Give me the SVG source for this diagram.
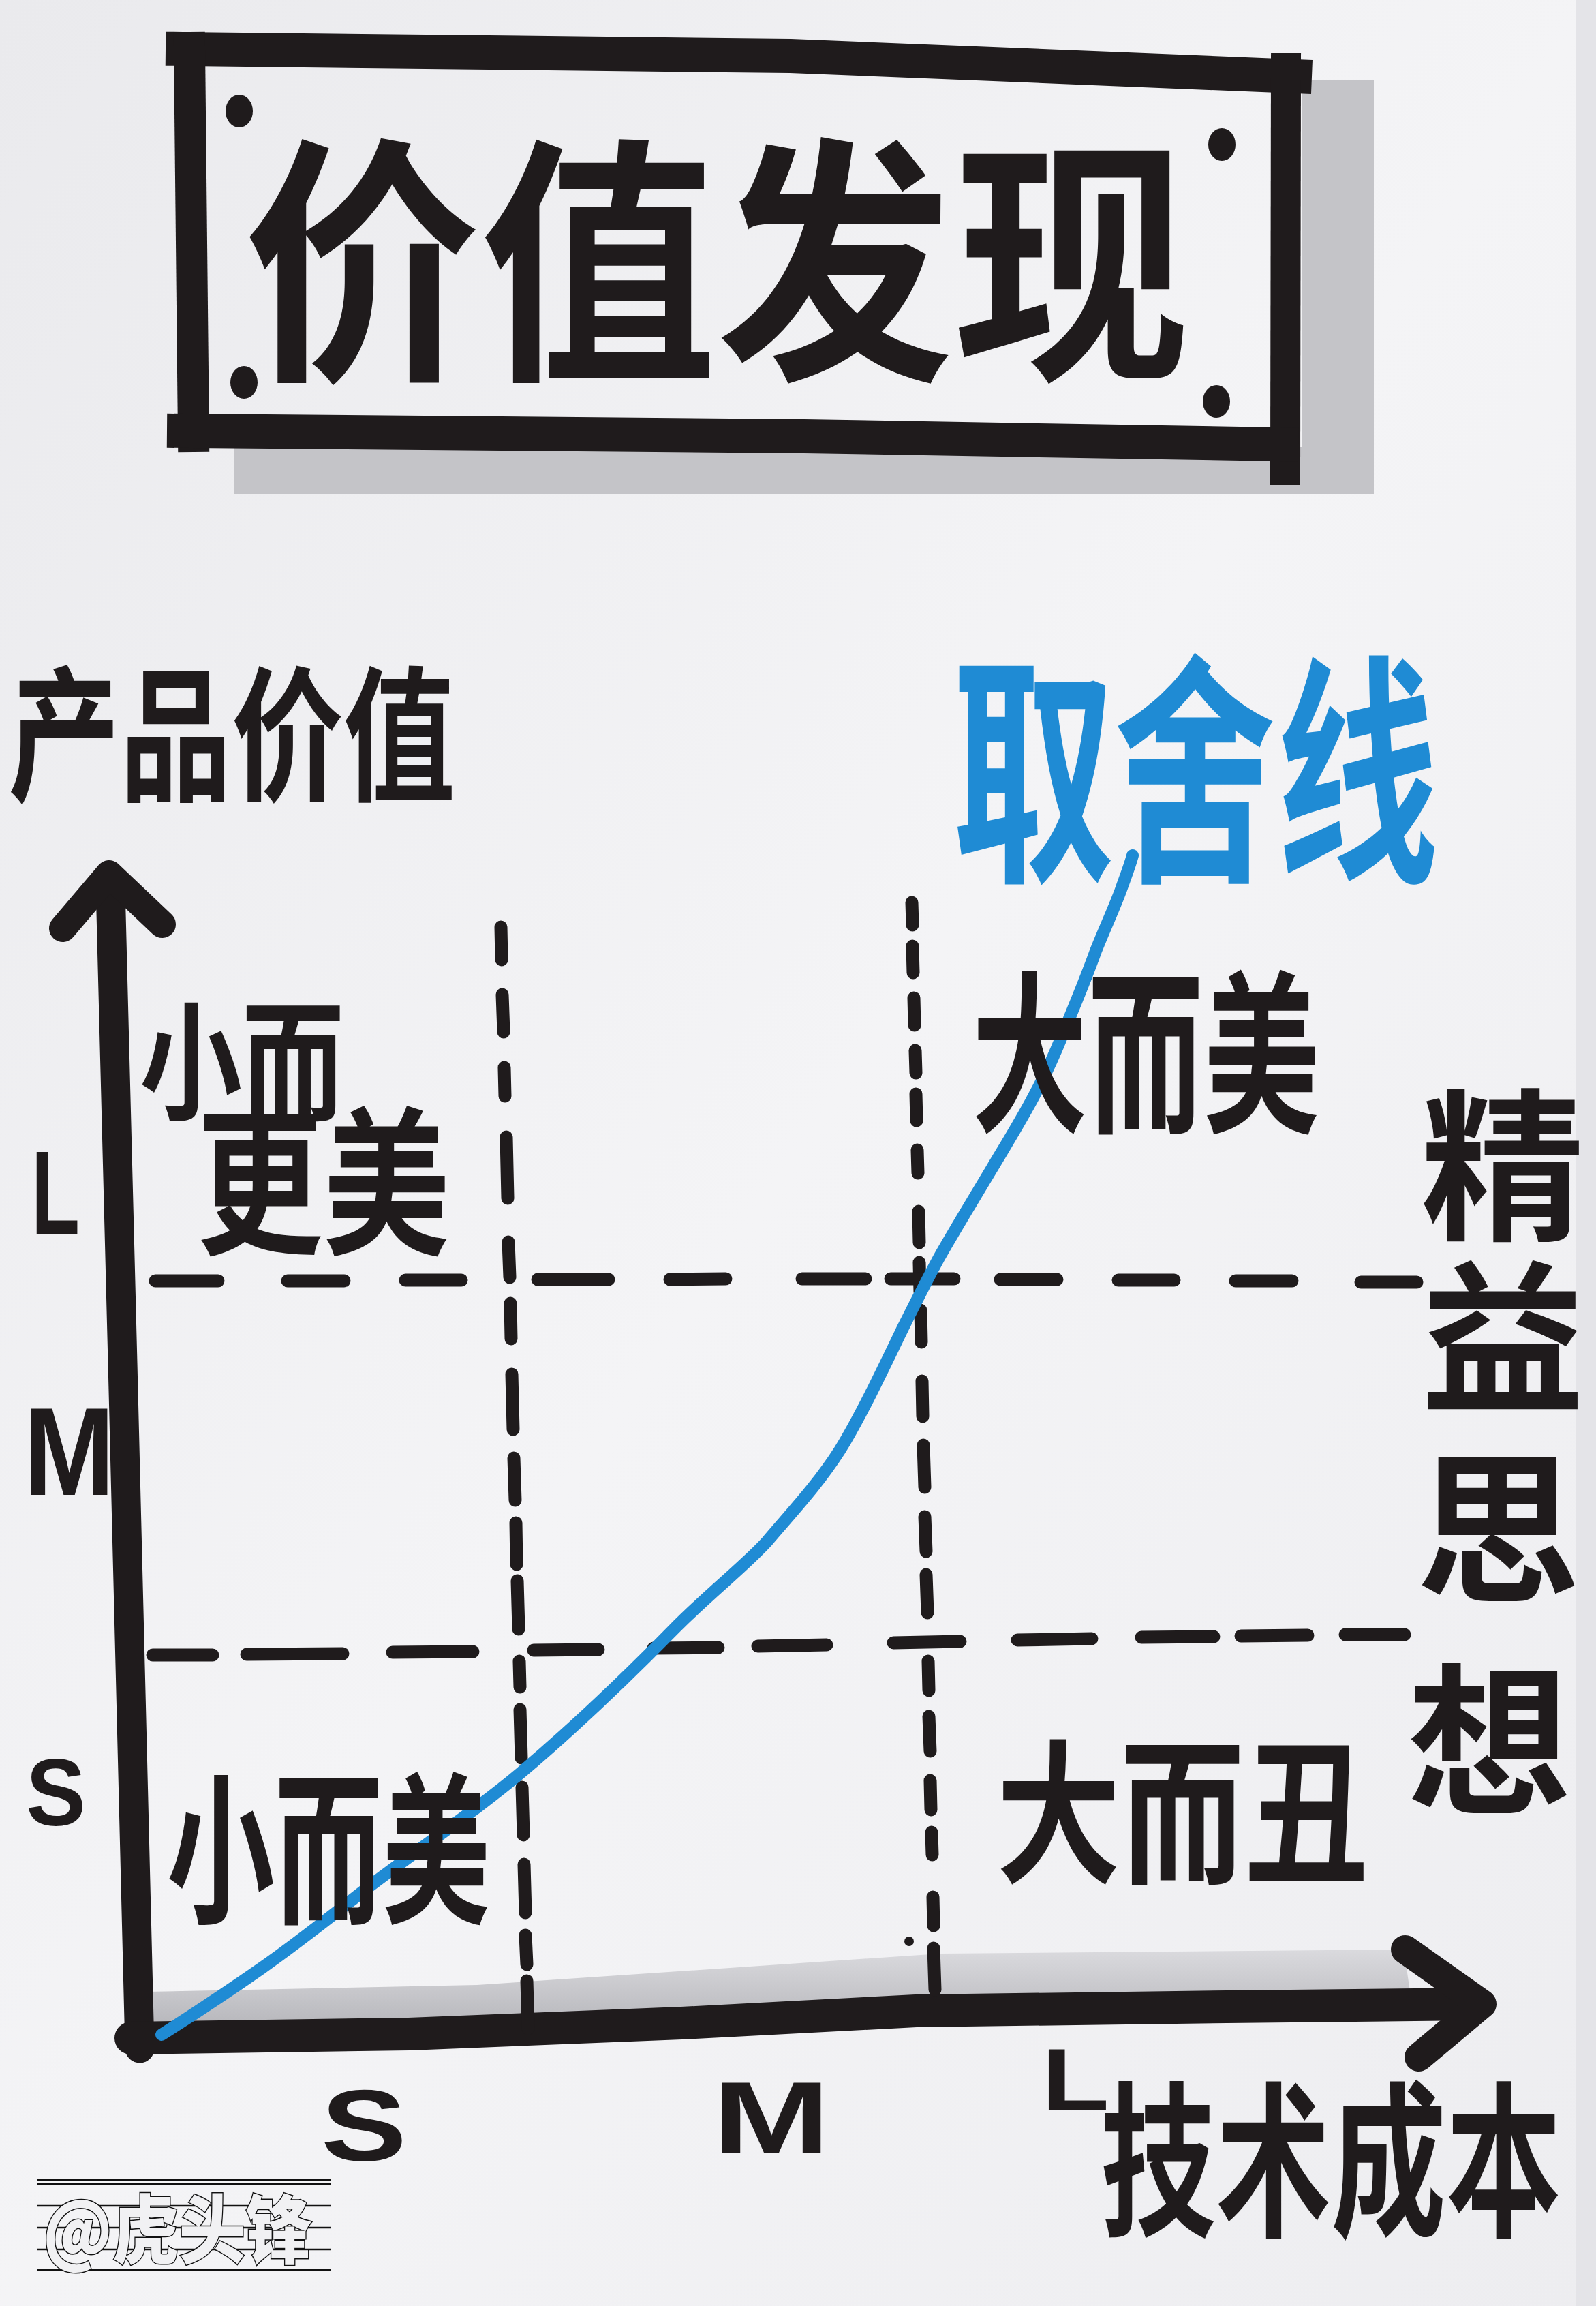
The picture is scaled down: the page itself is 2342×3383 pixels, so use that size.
<svg xmlns="http://www.w3.org/2000/svg" width="2342" height="3383" viewBox="0 0 2342 3383">
  <defs>
    <linearGradient id="paper" x1="0" y1="0" x2="1" y2="1">
      <stop offset="0" stop-color="#eaeaed"/>
      <stop offset="0.5" stop-color="#f4f4f6"/>
      <stop offset="1" stop-color="#ededf0"/>
    </linearGradient>
    <linearGradient id="axisShade" x1="0" y1="0" x2="0" y2="1">
      <stop offset="0" stop-color="#d6d6da"/>
      <stop offset="1" stop-color="#aeaeb3"/>
    </linearGradient>
    <style>
      .ink { fill: #1f1b1c; }
      .cjk { font-family: "Noto Sans CJK SC", "Noto Sans", sans-serif; font-weight: 700; fill: #1f1b1c; }
      .lat { font-family: "Liberation Sans", Arial, sans-serif; font-weight: 700; fill: #1f1b1c; }
      .blue { fill: #1f8bd4; }
      .bar { stroke: #1f1b1c; fill: none; stroke-linecap: square; }
      .dash { stroke: #1f1b1c; stroke-width: 19; stroke-linecap: round; fill: none; }
      .axis { stroke: #1f1b1c; fill: none; stroke-linecap: round; stroke-linejoin: round; }
      .shadow { fill: #c4c4c8; }
      .wm { font-family: "Noto Sans CJK SC", sans-serif; font-weight: 900; fill: #f1f1f3; stroke: #111; stroke-width: 3; paint-order: stroke; }
      .wmline { stroke: #111; stroke-width: 2.5; }
    </style>
  </defs>

  <rect x="0" y="0" width="2342" height="3383" fill="url(#paper)"/>
  <rect x="2312" y="0" width="30" height="3383" fill="#e4e4e8"/>

  <!-- Title box -->
  <g id="title">
    <rect class="shadow" x="1910" y="117" width="106" height="607"/>
    <rect class="shadow" x="344" y="656" width="1672" height="68"/>
    <path class="bar" stroke-width="50" d="M268,72 L1160,82 L1900,112"/>
    <path class="bar" stroke-width="46" d="M278,70 L284,640"/>
    <path class="bar" stroke-width="44" d="M1887,100 L1886,690"/>
    <path class="bar" stroke-width="50" d="M270,632 L1180,640 L1880,652"/>
    <ellipse class="ink" cx="351" cy="163" rx="20" ry="24"/>
    <ellipse class="ink" cx="1793" cy="212" rx="20" ry="24"/>
    <ellipse class="ink" cx="358" cy="561" rx="20" ry="24"/>
    <ellipse class="ink" cx="1785" cy="589" rx="20" ry="24"/>
    <text class="cjk" transform="translate(358,528) scale(1,1.1)" x="0" y="0" font-size="347">价值发现</text>
  </g>

  <!-- Connectors: axes, grid, trade-off curve -->
  <g id="connectors">
    <path fill="url(#axisShade)" opacity="0.85" d="M215,2968 L215,2922 L700,2912 L1100,2885 L1380,2866 L2060,2860 L2070,2928 L1344,2942 L900,2968 Z"/>
    <path class="axis" stroke-width="43" d="M162,1300 L180,2000 L205,3005"/>
    <path class="axis" stroke-width="40" stroke-linejoin="miter" d="M92,1362 L160,1282 L238,1356"/>
    <path class="axis" stroke-width="48" d="M192,2990 L600,2984 L1000,2968 L1344,2950 L1800,2944 L2165,2940"/>
    <path class="axis" stroke-width="42" stroke-linejoin="miter" d="M2062,2860 L2175,2940 L2082,3018"/>

    <path class="dash" d="M735,1360 L736,1408 M737,1459 L739,1514 M740,1566 L741,1608 M743,1668 L745,1758 M746,1822 L748,1874 M749,1912 L750,1964 M751,2016 L753,2097 M754,2139 L756,2201 M757,2234 L758,2295 M759,2319 L761,2390 M762,2437 L763,2475 M763,2508 L765,2579 M766,2622 L768,2692 M769,2735 L771,2806 M771,2839 L773,2882 M773,2906 L775,2976"/>
    <path class="dash" d="M1338,1324 L1339,1357 M1339,1388 L1340,1427 M1341,1464 L1342,1504 M1343,1541 L1344,1574 M1344,1605 L1345,1644 M1346,1687 L1347,1721 M1348,1777 L1349,1823 M1349,1852 L1350,1895 M1351,1922 L1352,1969 M1353,2026 L1354,2078 M1355,2120 L1357,2182 M1357,2225 L1359,2276 M1359,2310 L1361,2366 M1362,2437 L1363,2480 M1363,2518 L1365,2569 M1365,2612 L1366,2655 M1367,2688 L1368,2721 M1369,2783 L1370,2825 M1370,2858 L1372,2919"/>
    <circle class="ink" cx="1334" cy="2848" r="7"/>
    <path class="dash" d="M228,1879 L320,1879 M422,1879 L505,1879 M595,1878 L677,1878 M789,1877 L893,1877 M983,1877 L1065,1876 M1177,1876 L1270,1876 M1307,1876 L1400,1876 M1468,1877 L1551,1877 M1641,1878 L1723,1878 M1813,1879 L1896,1879 M1997,1881 L2079,1881"/>
    <path class="dash" d="M224,2428 L312,2428 M362,2427 L503,2426 M576,2424 L694,2423 M783,2421 L878,2420 M959,2418 L1054,2417 M1112,2415 L1213,2413 M1311,2410 L1409,2408 M1493,2406 L1602,2404 M1675,2402 L1781,2401 M1821,2400 L1919,2399 M1974,2398 L2061,2398"/>

    <path fill="none" stroke="#1f8bd4" stroke-width="18" stroke-linecap="round" stroke-linejoin="round" d="M237,2985 C300,2945 340,2918 383,2888 C440,2848 490,2808 536,2772 C620,2708 700,2655 765,2600 C850,2528 930,2450 987,2392 C1040,2338 1090,2300 1125,2262 C1165,2215 1200,2178 1232,2128 C1262,2080 1300,2000 1325,1948 C1345,1908 1360,1878 1378,1845 C1400,1806 1440,1740 1470,1690 C1500,1640 1528,1592 1550,1540 C1570,1492 1592,1440 1608,1395 C1622,1360 1636,1330 1645,1305 C1652,1285 1658,1270 1662,1255"/>
  </g>

  <g id="y-axis-label">
    <text class="cjk" transform="translate(12,1158) scale(1,1.3)" x="0" y="0" font-size="164">产品价值</text>
  </g>
  <g id="x-axis-label">
    <text class="cjk" transform="translate(1615,3262) scale(1,1.45)" x="0" y="0" font-size="169">技术成本</text>
  </g>
  <g id="y-ticks">
    <text class="lat" x="46" y="1810" font-size="175" textLength="71" lengthAdjust="spacingAndGlyphs">L</text>
    <text class="lat" x="35" y="2193" font-size="184" textLength="133" lengthAdjust="spacingAndGlyphs">M</text>
    <text class="lat" x="38" y="2678" font-size="140" textLength="88" lengthAdjust="spacingAndGlyphs">S</text>
  </g>
  <g id="x-ticks">
    <text class="lat" x="471" y="3170" font-size="148" textLength="126" lengthAdjust="spacingAndGlyphs">S</text>
    <text class="lat" x="1046" y="3159" font-size="150" textLength="172" lengthAdjust="spacingAndGlyphs">M</text>
    <text class="lat" x="1528" y="3096" font-size="130" textLength="100" lengthAdjust="spacingAndGlyphs">L</text>
  </g>

  <g id="q-small-better">
    <text class="cjk" transform="scale(1,1.25)"><tspan x="205" y="1302.4" font-size="150">小而</tspan><tspan x="288" y="1457.6" font-size="186">更美</tspan></text>
  </g>
  <g id="q-big-beautiful">
    <text class="cjk" transform="translate(1426,1641) scale(1,1.5)" x="0" y="0" font-size="170">大而美</text>
  </g>
  <g id="q-small-beautiful">
    <text class="cjk" transform="translate(245,2803) scale(1,1.5)" x="0" y="0" font-size="158">小而美</text>
  </g>
  <g id="q-big-ugly">
    <text class="cjk" transform="translate(1462,2745) scale(1,1.25)" x="0" y="0" font-size="182">大而丑</text>
  </g>

  <g id="curve-label">
    <text class="cjk blue" transform="translate(1397,1266) scale(1,1.5)" x="0" y="0" font-size="238">取舍线</text>
  </g>

  <g id="lean-thinking">
    <text class="cjk" font-size="240" text-anchor="middle"><tspan x="2205" y="1800">精</tspan><tspan x="2205" y="2053">益</tspan><tspan x="2198" y="2331">思</tspan><tspan x="2185" y="2643">想</tspan></text>
  </g>

  <g id="watermark">
    <line class="wmline" x1="55" y1="3198" x2="485" y2="3198"/>
    <line class="wmline" x1="55" y1="3204" x2="485" y2="3204"/>
    <line class="wmline" x1="55" y1="3236" x2="485" y2="3236"/>
    <line class="wmline" x1="55" y1="3268" x2="485" y2="3268"/>
    <line class="wmline" x1="55" y1="3300" x2="485" y2="3300"/>
    <line class="wmline" x1="55" y1="3330" x2="485" y2="3330"/>
    <text class="wm" x="63" y="3312" font-size="110" textLength="395" lengthAdjust="spacingAndGlyphs">@虎头锋</text>
  </g>
</svg>
